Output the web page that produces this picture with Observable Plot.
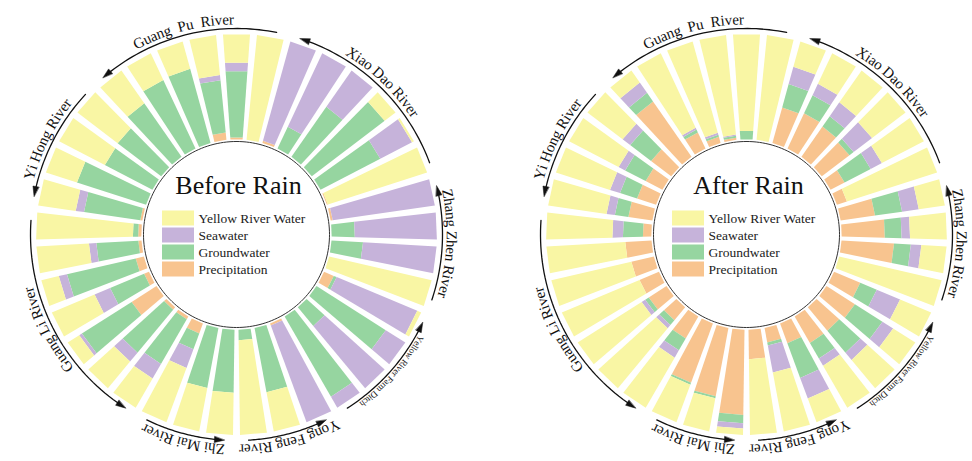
<!DOCTYPE html>
<html><head><meta charset="utf-8">
<script src="https://cdn.jsdelivr.net/npm/d3@7"></script>
<script src="https://cdn.jsdelivr.net/npm/@observablehq/plot@0.6"></script>
<style>
html,body{margin:0;padding:0;background:#fff;}
#wrap{display:flex;width:972px;height:461px;overflow:hidden;}
</style></head><body><div id="wrap"></div>
<script>
// ---------------- data ----------------
const components = ["Yellow River Water", "Seawater", "Groundwater", "Precipitation"];
const stackOrder = ["Precipitation", "Groundwater", "Seawater", "Yellow River Water"]; // inner -> outer
const colors = ["#F9F6A4", "#C6B3DA", "#96D5A0", "#F8C48F"];

// river groups, clockwise, starting just right of the top
const rivers = ["Xiao Dao River", "Zhang Zhen River", "Yellow River Farm Ditch", "Yong Feng River",
                "Zhi Mai River", "Guang Li River", "Yi Hong River", "Guang  Pu  River"];
const riverSamples = [6, 4, 4, 3, 3, 7, 4, 6];

// Before rain, % per sample (clockwise order)
const beforePrecip = [2,0,0,0,0,1,2,0,0,0,10,0,0,0,2,0,0,0,0,10,3,3,28,5,8,3,3,2,0,0,0,0,0,0,7,2,0];
const beforeGround = [0,23,58,87,64,0,0,22,30,0,3,78,23,88,0,62,10,60,58,16,49,53,56,35,67,40,5,54,69,51,52,62,72,73,50,63,0];
const beforeSea    = [98,77,42,0,34,0,98,78,70,0,83,22,77,12,98,0,0,0,0,19,16,11,3,16,8,7,0,8,0,0,0,0,0,0,5,8,0];
const beforeYellow = [0,0,0,13,2,99,0,0,0,100,4,0,0,0,0,38,90,40,42,55,32,33,13,44,17,50,92,36,31,49,48,38,28,27,38,27,100];

// After rain, % per sample (clockwise order)
const afterPrecip = [35,37,35,33,15,10,33,41,50,0,27,32,29,29,20,14,28,81,66,60,24,16,20,20,22,25,8,23,19,18,24,64,17,6,2,0,0];
const afterGround = [23,19,12,5,28,0,26,16,16,0,17,31,27,17,35,3,0,8,2,2,13,6,4,0,0,0,19,13,17,22,25,10,3,2,2,8,0];
const afterSea    = [17,12,16,22,12,0,16,8,10,0,24,12,9,8,21,26,0,5,0,0,8,4,4,0,0,0,10,8,10,7,9,12,2,2,1,0,0];
const afterYellow = [25,32,37,40,45,90,25,35,24,100,32,25,35,46,24,57,72,6,32,38,55,74,72,80,78,75,63,56,54,53,42,14,78,90,95,92,100];

const titles = ["Before Rain", "After Rain"];

// ---------------- layout constants ----------------
const N = 37, START = 2, STEP = 2 * Math.PI / N;
const R0 = 95, R1 = 200, RC = 93, RA = 206, RT = 215, RT_SMALL = 211;
const W = 486, H = 461, CY = 234;
const PAD = 1.5 * Math.PI / 180;

function rowsFor(P, G, S, Y) {
  return P.map((_, i) => ({"Precipitation": P[i], "Groundwater": G[i], "Seawater": S[i], "Yellow River Water": Y[i]}));
}

function barPolys(samples) {
  const out = [];
  samples.forEach((s, j) => {
    const th = (j + START) * STEP;
    const ux = Math.sin(th), uy = Math.cos(th), vx = Math.cos(th), vy = -Math.sin(th);
    const tot = stackOrder.reduce((a, k) => a + s[k], 0);
    let acc = 0;
    const hw = r => r * Math.tan(STEP / 2) - (4 + (r - R0) * 3 / (R1 - R0)) / 2;
    stackOrder.forEach(k => {
      const v = s[k];
      if (!v) return;
      const ra = R0 + (R1 - R0) * acc / tot, rb = R0 + (R1 - R0) * (acc + v) / tot;
      acc += v;
      const id = j + "-" + k;
      const pts = [[ra, -1], [rb, -1], [rb, 1], [ra, 1]];
      pts.forEach(([r, sgn]) => out.push({id, comp: k, x: r * ux + sgn * hw(r) * vx, y: r * uy + sgn * hw(r) * vy}));
    });
  });
  return out;
}

function circlePts(r) {
  return d3.range(0, 361, 2).map(d => ({x: r * Math.sin(d * Math.PI / 180), y: r * Math.cos(d * Math.PI / 180)}));
}

const mctx = document.createElement("canvas").getContext("2d");
function charLayout(label, mid, R, size) {
  mctx.font = `${size}px "Liberation Serif"`;
  const chars = Array.from(label);
  const widths = chars.map(c => mctx.measureText(c).width);
  const total = widths.reduce((a, b) => a + b, 0);
  const s = mid - total / 2 / R;
  let acc = 0;
  return chars.map((c, i) => {
    const a = s + (acc + widths[i] / 2) / R;
    acc += widths[i];
    return {x: R * Math.sin(a), y: R * Math.cos(a), ch: c, rot: a * 180 / Math.PI, size};
  });
}

function riverDecor() {
  const arcs = [], heads = [], chars = [];
  let j = 0;
  rivers.forEach((name, g) => {
    const js = j, je = j + riverSamples[g] - 1;
    j += riverSamples[g];
    const a0 = (js + START) * STEP - PAD, a1 = (je + START) * STEP + PAD;
    const L = 10, w = 3;
    const aStart = a0 + L / RA;
    d3.range(0, 41).forEach(t => {
      const a = aStart + (a1 - aStart) * t / 40;
      arcs.push({g, x: RA * Math.sin(a), y: RA * Math.cos(a)});
    });
    const px = RA * Math.sin(a0), py = RA * Math.cos(a0);
    const dx = -Math.cos(a0), dy = Math.sin(a0);
    const bx = px - L * dx, by = py - L * dy, nx = Math.sin(a0), ny = Math.cos(a0);
    heads.push({g, x: px, y: py}, {g, x: bx + w * nx, y: by + w * ny}, {g, x: bx - w * nx, y: by - w * ny});
    const small = name.length > 20;
    chars.push(...charLayout(name, (a0 + a1) / 2, small ? RT_SMALL : RT, small ? 9 : 15));
  });
  return {arcs, heads, chars};
}

function chart(title, samples, cx) {
  const bars = barPolys(samples);
  const deco = riverDecor();
  const legend = components.map((c, i) => ({c, i, y: 16 - i * 17}));
  return Plot.plot({
    width: W, height: H, margin: 0,
    x: {domain: [-cx, W - cx], axis: null},
    y: {domain: [CY - H, CY], axis: null},
    color: {domain: components, range: colors},
    style: {background: "#fff", fontFamily: "Liberation Serif, serif"},
    marks: [
      Plot.line(bars, {x: "x", y: "y", z: "id", fill: "comp", stroke: "none", curve: "linear-closed"}),
      Plot.line(circlePts(RC), {x: "x", y: "y", stroke: "#333", strokeWidth: 1}),
      Plot.line(deco.arcs, {x: "x", y: "y", z: "g", stroke: "#111", strokeWidth: 1.3}),
      Plot.line(deco.heads, {x: "x", y: "y", z: "g", fill: "#111", stroke: "#111", strokeWidth: 0.5, curve: "linear-closed"}),
      Plot.text(deco.chars, {x: "x", y: "y", text: "ch", rotate: "rot", fontSize: d => d.size, fill: "#111",
        fontFamily: "Liberation Serif, serif", textAnchor: "middle", lineAnchor: "middle"}),
      Plot.text([title], {x: 2, y: 49, text: d => d, fontSize: 26, fill: "#111", fontFamily: "Liberation Serif, serif"}),
      Plot.rect(legend, {x1: -74, x2: -42, y1: d => d.y - 7.5, y2: d => d.y + 7.5, fill: "c"}),
      Plot.text(legend, {x: -38, y: "y", text: "c", textAnchor: "start", fontSize: 13.5, fill: "#222", fontFamily: "Liberation Serif, serif"})
    ]
  });
}

const wrap = document.getElementById("wrap");
wrap.append(chart(titles[0], rowsFor(beforePrecip, beforeGround, beforeSea, beforeYellow), 236));
wrap.append(chart(titles[1], rowsFor(afterPrecip, afterGround, afterSea, afterYellow), 260));
</script></body></html>
